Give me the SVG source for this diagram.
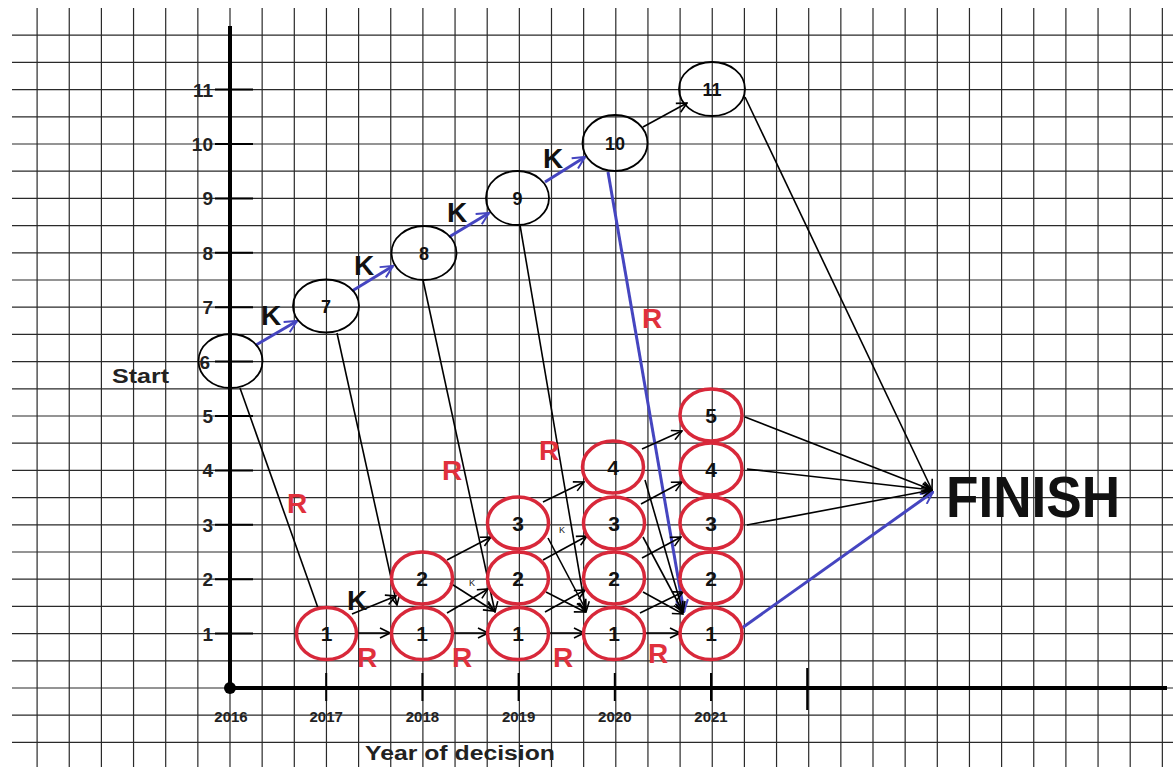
<svg xmlns="http://www.w3.org/2000/svg" width="1173" height="767" viewBox="0 0 1173 767">
<style>
.grid{stroke:#2a2a2a;stroke-width:1.2;fill:none}
.axis{stroke:#000;stroke-width:4;fill:none}
.tick{stroke:#000;stroke-width:2;fill:none}
.bn{fill:none;stroke:#000;stroke-width:1.8}
.rn{fill:none;stroke:#d8283a;stroke-width:3.5}
.nl{font-family:"Liberation Sans",Arial,sans-serif;font-size:18px;font-weight:bold;fill:#111;text-anchor:middle}
.rl{font-family:"Liberation Sans",Arial,sans-serif;font-size:21px;font-weight:bold;fill:#111;text-anchor:middle}
.ax{font-family:"Liberation Sans",Arial,sans-serif;font-size:19px;font-weight:bold;fill:#222}
.yr{font-family:"Liberation Sans",Arial,sans-serif;font-size:15px;font-weight:bold;fill:#222;text-anchor:middle}
.big{font-family:"Liberation Sans",Arial,sans-serif;font-size:28px;font-weight:bold;text-anchor:middle}
.red{fill:#e0303c}
.blk{fill:#111}
.tiny{font-family:"Liberation Sans",Arial,sans-serif;font-size:9px;fill:#111;text-anchor:middle}
.c{stroke:#000;stroke-width:1.6;fill:none;marker-end:url(#ah)}
.cn{stroke:#000;stroke-width:1.6;fill:none}
.b{stroke:#4545c0;stroke-width:3;fill:none;marker-end:url(#bh)}
</style>
<defs>
<marker id="ah" viewBox="0 0 12 12" refX="11" refY="6" markerWidth="12" markerHeight="12" markerUnits="userSpaceOnUse" orient="auto">
<path d="M1,1 L11,6 L1,11" fill="none" stroke="#000" stroke-width="1.6"/>
</marker>
<marker id="bh" viewBox="0 0 14 14" refX="13" refY="7" markerWidth="14" markerHeight="14" markerUnits="userSpaceOnUse" orient="auto">
<path d="M1,1 L13,7 L1,13" fill="none" stroke="#4545c0" stroke-width="2"/>
</marker>
</defs>
<rect width="1173" height="767" fill="#fff"/>
<g id="grid">
<path class="grid" d="M37.1 8V767M69.25 8V767M101.4 8V767M133.55 8V767M165.7 8V767M197.85 8V767M230 8V767M262.15 8V767M294.3 8V767M326.45 8V767M358.6 8V767M390.75 8V767M422.9 8V767M455.05 8V767M487.2 8V767M519.35 8V767M551.5 8V767M583.65 8V767M615.8 8V767M647.95 8V767M680.1 8V767M712.25 8V767M744.4 8V767M776.55 8V767M808.7 8V767M840.85 8V767M873 8V767M905.15 8V767M937.3 8V767M969.45 8V767M1001.6 8V767M1033.75 8V767M1065.9 8V767M1098.05 8V767M1130.2 8V767M1162.35 8V767"/>
<path class="grid" d="M12 35.2H1173M12 62.4H1173M12 89.6H1173M12 116.8H1173M12 144H1173M12 171.2H1173M12 198.4H1173M12 225.6H1173M12 252.8H1173M12 280H1173M12 307.2H1173M12 334.4H1173M12 361.6H1173M12 388.8H1173M12 416H1173M12 443.2H1173M12 470.4H1173M12 497.6H1173M12 524.8H1173M12 552H1173M12 579.2H1173M12 606.4H1173M12 633.6H1173M12 660.8H1173M12 688H1173M12 715.2H1173M12 742.4H1173"/>
</g>
<g id="axes">
<path class="axis" d="M230 26V688H1167"/>
<circle cx="230" cy="688" r="6" fill="#000"/>
<path class="tick" d="M215 633.6H253M215 579.2H253M215 524.8H253M215 470.4H253M215 416H253M215 361.6H253M215 307.2H253M215 252.8H253M215 198.4H253M215 144H253M215 89.6H253"/>
<path class="tick" d="M326.2 673V701M422.4 673V701M518.6 673V701M614.8 673V701M711 673V701M807.2 668V710"/>
<g class="ax" text-anchor="end">
<text x="213" y="640.5">1</text><text x="213" y="586">2</text><text x="213" y="531.5">3</text><text x="213" y="477">4</text><text x="213" y="422.5">5</text><text x="210" y="368.5">6</text><text x="213" y="314">7</text><text x="213" y="259.5">8</text><text x="213" y="205">9</text><text x="213" y="151">10</text><text x="213" y="96.5">11</text>
</g>
<text class="yr" x="231" y="722">2016</text><text class="yr" x="326.2" y="722">2017</text><text class="yr" x="422.4" y="722">2018</text><text class="yr" x="518.6" y="722">2019</text><text class="yr" x="614.8" y="722">2020</text><text class="yr" x="711" y="722">2021</text>
<text x="365" y="760" font-family="Liberation Sans,Arial,sans-serif" font-size="20" font-weight="bold" fill="#222" textLength="190" lengthAdjust="spacingAndGlyphs">Year of decision</text>
<text x="112" y="383" font-family="Liberation Sans,Arial,sans-serif" font-size="21" font-weight="bold" fill="#222" textLength="57" lengthAdjust="spacingAndGlyphs">Start</text>
</g>
<g id="connectors">
<path class="b" d="M256 345L297 321"/>
<path class="b" d="M352 291L393 266"/>
<path class="b" d="M449 237L489 213"/>
<path class="b" d="M545 182L585 157"/>
<path class="b" d="M608 172L684 612"/>
<path class="b" d="M742 628L933 492"/>
<path class="c" d="M643 127L687 103"/>
<path class="cn" d="M240 388L318 608"/>
<path class="c" d="M337 333L397 605"/>
<path class="c" d="M423 280L495 612"/>
<path class="c" d="M520 225L586 612"/>
<path class="c" d="M352 614L396 596"/>
<path class="c" d="M447 613L488 589"/>
<path class="c" d="M447 560L491 537"/>
<path class="c" d="M450 583L494 611"/>
<path class="c" d="M545 612L585 590"/>
<path class="c" d="M543 560L587 536"/>
<path class="c" d="M543 502L584 482"/>
<path class="c" d="M548 538L586 610"/>
<path class="c" d="M546 592L585 612"/>
<path class="c" d="M640 613L683 592"/>
<path class="c" d="M642 558L681 537"/>
<path class="c" d="M641 504L682 482"/>
<path class="c" d="M642 449L682 431"/>
<path class="c" d="M645 480L683 612"/>
<path class="c" d="M643 537L683 612"/>
<path class="c" d="M643 592L683 614"/>
<path class="c" d="M356 633L390 633"/>
<path class="c" d="M453 633L488 633"/>
<path class="c" d="M549 633L584 633"/>
<path class="c" d="M645 633L680 633"/>
<path class="c" d="M745 97L932 490"/>
<path class="c" d="M745 417L932 490"/>
<path class="c" d="M747 469L932 490"/>
<path class="c" d="M747 525L932 490"/>
<g class="big blk"><text x="271" y="325">K</text><text x="364" y="275">K</text><text x="457" y="222">K</text><text x="553" y="168">K</text><text x="357" y="610">K</text></g>
<g class="big red"><text x="297" y="513">R</text><text x="452" y="480">R</text><text x="549" y="460">R</text><text x="652" y="328">R</text><text x="367" y="667">R</text><text x="462" y="667">R</text><text x="563" y="667">R</text><text x="658" y="663">R</text></g>
<text class="tiny" x="472" y="586">K</text><text class="tiny" x="562" y="533">K</text>
</g>
<g id="n6"><ellipse class="bn" cx="230.5" cy="361" rx="32" ry="27"/></g>
<g id="n7"><ellipse class="bn" cx="326" cy="306" rx="33" ry="26.5"/><text class="nl" x="326" y="312.5">7</text></g>
<g id="n8"><ellipse class="bn" cx="424" cy="253" rx="32.5" ry="27"/><text class="nl" x="424" y="259.5">8</text></g>
<g id="n9"><ellipse class="bn" cx="517.5" cy="198" rx="31.5" ry="27"/><text class="nl" x="517.5" y="204.5">9</text></g>
<g id="n10"><ellipse class="bn" cx="615" cy="143" rx="32.5" ry="28"/><text class="nl" x="615" y="149.5">10</text></g>
<g id="n11"><ellipse class="bn" cx="712" cy="89" rx="33" ry="27"/><text class="nl" x="712" y="95.5">11</text></g>
<g id="r2017_1"><ellipse class="rn" cx="326.5" cy="633.6" rx="30" ry="26"/><text class="rl" x="326.5" y="641">1</text></g>
<g id="r2018_1"><ellipse class="rn" cx="422" cy="633.6" rx="30.5" ry="26"/><text class="rl" x="422" y="641">1</text></g>
<g id="r2018_2"><ellipse class="rn" cx="422" cy="578" rx="30.5" ry="26"/><text class="rl" x="422" y="585.5">2</text></g>
<g id="r2019_1"><ellipse class="rn" cx="518" cy="633.6" rx="30.5" ry="26"/><text class="rl" x="518" y="641">1</text></g>
<g id="r2019_2"><ellipse class="rn" cx="518" cy="578" rx="30.5" ry="26"/><text class="rl" x="518" y="585.5">2</text></g>
<g id="r2019_3"><ellipse class="rn" cx="518" cy="523" rx="30.5" ry="26"/><text class="rl" x="518" y="530.5">3</text></g>
<g id="r2020_1"><ellipse class="rn" cx="614" cy="633.6" rx="30.5" ry="26"/><text class="rl" x="614" y="641">1</text></g>
<g id="r2020_2"><ellipse class="rn" cx="614" cy="578" rx="30.5" ry="26"/><text class="rl" x="614" y="585.5">2</text></g>
<g id="r2020_3"><ellipse class="rn" cx="614" cy="523" rx="30.5" ry="26"/><text class="rl" x="614" y="530.5">3</text></g>
<g id="r2020_4"><ellipse class="rn" cx="613" cy="467" rx="30.5" ry="26"/><text class="rl" x="613" y="474.5">4</text></g>
<g id="r2021_1"><ellipse class="rn" cx="711" cy="633.6" rx="31" ry="26"/><text class="rl" x="711" y="641">1</text></g>
<g id="r2021_2"><ellipse class="rn" cx="711" cy="578" rx="31" ry="26"/><text class="rl" x="711" y="585.5">2</text></g>
<g id="r2021_3"><ellipse class="rn" cx="711" cy="523" rx="31" ry="26"/><text class="rl" x="711" y="530.5">3</text></g>
<g id="r2021_4"><ellipse class="rn" cx="711" cy="469" rx="31" ry="26"/><text class="rl" x="711" y="476.5">4</text></g>
<g id="r2021_5"><ellipse class="rn" cx="711" cy="415" rx="31" ry="26"/><text class="rl" x="711" y="422.5">5</text></g>
<g id="finish"><text x="946" y="517" font-family="Liberation Sans,Arial,sans-serif" font-size="57" font-weight="bold" fill="#111" textLength="174" lengthAdjust="spacingAndGlyphs">FINISH</text></g>
</svg>
